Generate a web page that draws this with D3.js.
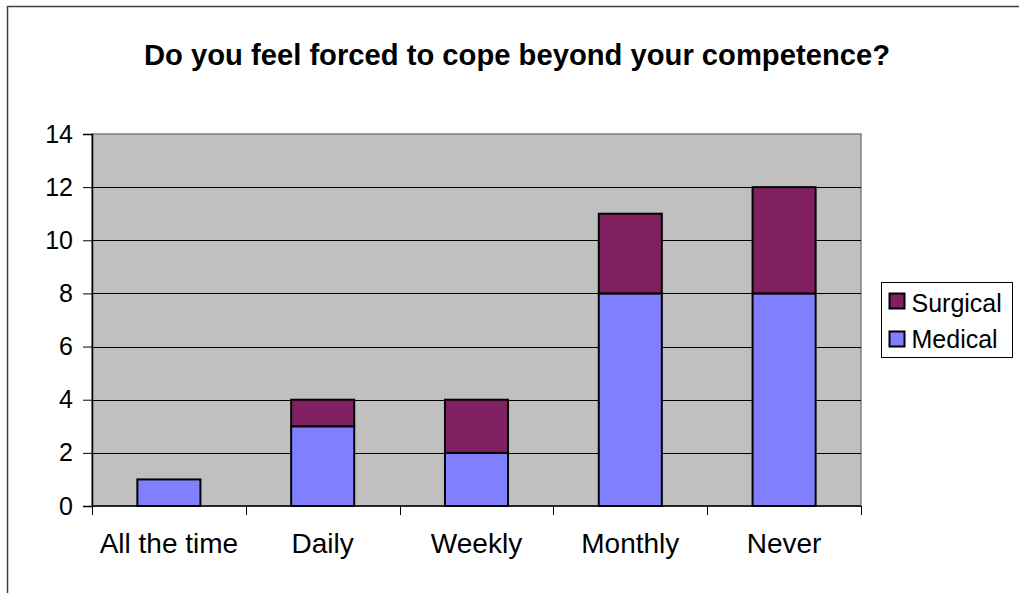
<!DOCTYPE html>
<html>
<head>
<meta charset="utf-8">
<script src="https://cdn.jsdelivr.net/npm/d3@7"></script>
<style>
  body { margin: 0; background: #fff; }
  text { font-family: "Liberation Sans", Arial, sans-serif; fill: #000; }
</style>
</head>
<body>
<script>
const categories = ["All the time", "Daily", "Weekly", "Monthly", "Never"];
const medical = [1, 3, 2, 8, 8];
const surgical = [0, 1, 2, 3, 4];
const yTicks = [0, 2, 4, 6, 8, 10, 12, 14];
const seriesNames = ["Surgical", "Medical"];

const width = 1019, height = 593;
const plot = { left: 92, right: 861, top: 134, bottom: 506 };

const svg = d3.select("body").append("svg")
    .attr("width", width)
    .attr("height", height);

// outer chart frame
svg.append("rect")
    .attr("x", 7.5).attr("y", 6.5)
    .attr("width", 1030).attr("height", 600)
    .attr("fill", "#fff")
    .attr("stroke", "#404040")
    .attr("stroke-width", 1.5);

svg.append("text")
    .attr("x", 517).attr("y", 65)
    .attr("text-anchor", "middle")
    .attr("font-size", 29.2)
    .attr("font-weight", "bold")
    .text("Do you feel forced to cope beyond your competence?");

const x = d3.scaleBand()
    .domain(categories)
    .range([plot.left, plot.right])
    .padding(0);

const y = d3.scaleLinear()
    .domain([0, 14])
    .range([plot.bottom, plot.top]);

// plot background
svg.append("rect")
    .attr("x", plot.left).attr("y", plot.top)
    .attr("width", plot.right - plot.left)
    .attr("height", plot.bottom - plot.top)
    .attr("fill", "#c0c0c0")
    .attr("stroke", "#808080")
    .attr("stroke-width", 1.5);

// gridlines
svg.selectAll(".grid")
    .data(yTicks.filter(d => d > 0 && d < 14))
    .enter().append("line")
    .attr("x1", plot.left).attr("x2", plot.right)
    .attr("y1", d => Math.round(y(d)) + 0.5)
    .attr("y2", d => Math.round(y(d)) + 0.5)
    .attr("stroke", "#000")
    .attr("stroke-width", 1);

// bars
const barW = x.bandwidth() * 0.41;
const rows = categories.map((c, i) => ({ cat: c, medical: medical[i], surgical: surgical[i] }));
const stack = d3.stack().keys(["medical", "surgical"])(rows);
const colors = { medical: "#8080ff", surgical: "#802060" };

stack.forEach(layer => {
    svg.selectAll(".bar-" + layer.key)
        .data(layer.filter(d => d[1] - d[0] > 0))
        .enter().append("rect")
        .attr("x", d => x(d.data.cat) + (x.bandwidth() - barW) / 2)
        .attr("y", d => y(d[1]))
        .attr("width", barW)
        .attr("height", d => y(d[0]) - y(d[1]))
        .attr("fill", colors[layer.key])
        .attr("stroke", "#000")
        .attr("stroke-width", 2);
});

// y axis
const yAxis = svg.append("g")
    .attr("transform", `translate(${plot.left},0)`)
    .call(d3.axisLeft(y).tickValues(yTicks).tickSize(9).tickPadding(10));
yAxis.selectAll("text").attr("font-size", 25).attr("font-family", "Liberation Sans, Arial, sans-serif");
yAxis.selectAll("line, path").attr("stroke", "#000");
yAxis.select(".domain").attr("stroke-width", 1.5);

// x axis with ticks at category boundaries
const xAxis = svg.append("g")
    .attr("transform", `translate(0,${plot.bottom})`);
xAxis.append("line")
    .attr("x1", plot.left).attr("x2", plot.right)
    .attr("y1", 0).attr("y2", 0)
    .attr("stroke", "#000").attr("stroke-width", 1.5);
const bounds = categories.map(c => x(c)).concat([plot.right]);
xAxis.selectAll(".xt")
    .data(bounds)
    .enter().append("line")
    .attr("x1", d => Math.round(d) + 0.5).attr("x2", d => Math.round(d) + 0.5)
    .attr("y1", 0).attr("y2", 9)
    .attr("stroke", "#000");
xAxis.selectAll(".xl")
    .data(categories)
    .enter().append("text")
    .attr("x", d => x(d) + x.bandwidth() / 2)
    .attr("y", 47)
    .attr("text-anchor", "middle")
    .attr("font-size", 28)
    .text(d => d);

// legend
const legend = svg.append("g").attr("transform", "translate(881.5,282.5)");
legend.append("rect")
    .attr("width", 131).attr("height", 75)
    .attr("fill", "#fff").attr("stroke", "#000");
seriesNames.forEach((name, i) => {
    const key = name.toLowerCase();
    legend.append("rect")
        .attr("x", 8).attr("y", 11 + i * 38)
        .attr("width", 15).attr("height", 15)
        .attr("fill", colors[key])
        .attr("stroke", "#000").attr("stroke-width", 2);
    legend.append("text")
        .attr("x", 30).attr("y", 29 + i * 36)
        .attr("font-size", 25)
        .text(name);
});
</script>
</body>
</html>
